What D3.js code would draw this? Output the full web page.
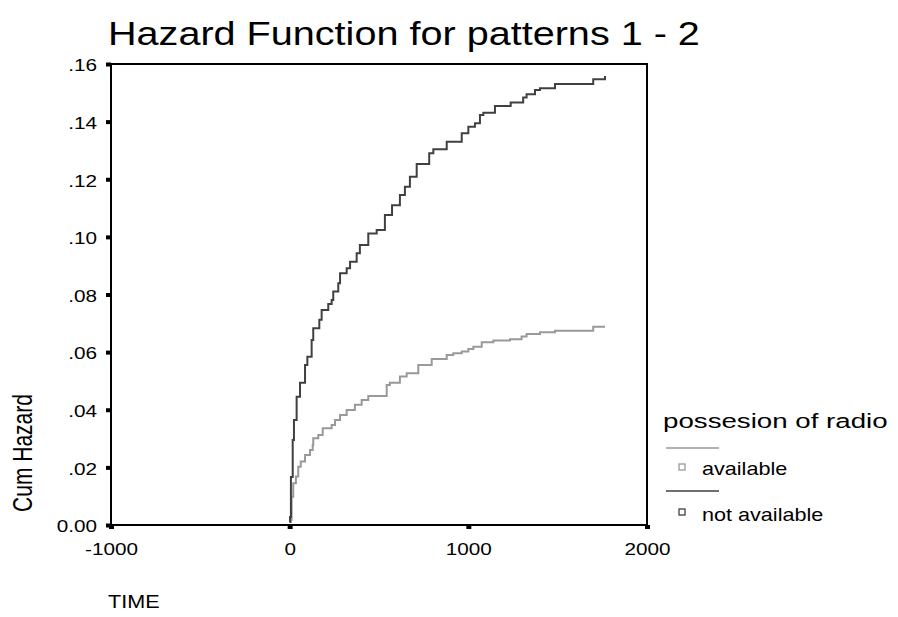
<!DOCTYPE html>
<html>
<head>
<meta charset="utf-8">
<script src="https://cdn.jsdelivr.net/npm/d3@7"></script>
<style>
  body { margin: 0; background: #fff; }
  text { font-family: "Liberation Sans", Arial, sans-serif; fill: #000; }
</style>
</head>
<body>
<div id="chart"></div>
<script>
// cumulative hazard steps
const availTime = [0, 7, 11, 20, 35, 48, 62, 86, 114, 129, 132, 160, 185, 235, 254, 282, 319, 365, 403, 440, 543, 561, 617, 655, 720, 795, 879, 916, 963, 1000, 1028, 1075, 1140, 1233, 1298, 1326, 1401, 1485, 1699, 1765];
const availHaz = [0.001, 0.0017, 0.0098, 0.0145, 0.0168, 0.0202, 0.022, 0.0243, 0.026, 0.0278, 0.0301, 0.0312, 0.0336, 0.0347, 0.0364, 0.0382, 0.0399, 0.0417, 0.0434, 0.0448, 0.0486, 0.0494, 0.0515, 0.0527, 0.0555, 0.0576, 0.059, 0.0596, 0.0602, 0.0611, 0.0619, 0.0634, 0.064, 0.0645, 0.0654, 0.0663, 0.0669, 0.0674, 0.0688, 0.0688];

const notAvailTime = [0, 2, 7, 17, 24, 39, 58, 86, 99, 123, 132, 166, 179, 216, 235, 244, 272, 282, 319, 338, 375, 393, 440, 487, 533, 573, 617, 645, 673, 711, 781, 804, 879, 963, 1000, 1037, 1065, 1084, 1149, 1237, 1307, 1326, 1373, 1401, 1485, 1699, 1765];
const notAvailHaz = [0.001, 0.0028, 0.0167, 0.0295, 0.0364, 0.0445, 0.0494, 0.0555, 0.0584, 0.0642, 0.0683, 0.0712, 0.0746, 0.0767, 0.0781, 0.081, 0.0839, 0.0874, 0.0891, 0.0914, 0.0943, 0.0972, 0.1012, 0.1024, 0.1076, 0.111, 0.1145, 0.1174, 0.1209, 0.1253, 0.129, 0.1304, 0.133, 0.136, 0.1382, 0.1394, 0.1423, 0.1431, 0.1454, 0.1466, 0.1484, 0.1495, 0.151, 0.1516, 0.1531, 0.1547, 0.1558];

const xTicks = [-1000, 0, 1000, 2000];
const xTickLabels = ["-1000", "0", "1000", "2000"];
const yTicks = [0, 0.02, 0.04, 0.06, 0.08, 0.10, 0.12, 0.14, 0.16];
const yTickLabels = ["0.00", ".02", ".04", ".06", ".08", ".10", ".12", ".14", ".16"];

const groupNames = ["available", "not available"];
const groupColors = ["#999999", "#404040"];

const W = 898, H = 617;
const plot = {left: 111, right: 647, top: 64, bottom: 525};
const SX = 1.22; // the original text is drawn a bit wide

const svg = d3.select("#chart").append("svg")
    .attr("width", W)
    .attr("height", H);

const x = d3.scaleLinear().domain([-1000, 2000]).range([plot.left, plot.right]);
const y = d3.scaleLinear().domain([0, 0.16]).range([plot.bottom, plot.top]);

// wide text helper: place text at (px,py) stretched horizontally
function wideText(px, py, str, size, sx, anchor) {
    return svg.append("text")
        .attr("transform", `translate(${px},${py}) scale(${sx},1)`)
        .attr("text-anchor", anchor || "start")
        .style("font-size", size + "px")
        .text(str);
}

// title
wideText(108, 45, "Hazard Function for patterns 1 - 2", 33, 1.2);

// axes
const xAxis = d3.axisBottom(x)
    .tickValues(xTicks)
    .tickFormat((d, i) => xTickLabels[i])
    .tickSizeInner(4)
    .tickSizeOuter(0);

const gx = svg.append("g")
    .attr("transform", `translate(0,${plot.bottom})`)
    .call(xAxis);
gx.select(".domain").remove();
gx.selectAll(".tick line").attr("stroke", "#000").attr("stroke-width", 5);
gx.selectAll(".tick text")
    .attr("y", 30).attr("dy", 0)
    .attr("transform", `scale(${SX},1)`)
    .style("font-size", "17px")
    .style("font-family", "'Liberation Sans', Arial, sans-serif")
    .attr("fill", "#000");

const yAxis = d3.axisLeft(y)
    .tickValues(yTicks)
    .tickFormat((d, i) => yTickLabels[i])
    .tickSizeInner(5)
    .tickSizeOuter(0);

const gy = svg.append("g")
    .attr("transform", `translate(${plot.left},0)`)
    .call(yAxis);
gy.select(".domain").remove();
gy.selectAll(".tick line").attr("stroke", "#000").attr("stroke-width", 4);
gy.selectAll(".tick text")
    .attr("x", -14 / SX).attr("dy", "0.4em")
    .attr("transform", `scale(${SX},1)`)
    .style("font-size", "17px")
    .style("font-family", "'Liberation Sans', Arial, sans-serif")
    .attr("fill", "#000");

// frame
svg.append("rect")
    .attr("x", plot.left)
    .attr("y", plot.top)
    .attr("width", plot.right - plot.left)
    .attr("height", plot.bottom - plot.top)
    .attr("fill", "none")
    .attr("stroke", "#000")
    .attr("stroke-width", 2);

// step curves
const line = d3.line()
    .x(d => x(d[0]))
    .y(d => y(d[1]))
    .curve(d3.curveStepAfter);

const series = [
    d3.zip(availTime, availHaz),
    d3.zip(notAvailTime, notAvailHaz)
];

svg.selectAll(".haz")
    .data(series)
    .enter()
    .append("path")
    .attr("class", "haz")
    .attr("d", line)
    .attr("fill", "none")
    .attr("stroke", (d, i) => groupColors[i])
    .attr("stroke-width", 2);

// axis titles
svg.append("text")
    .attr("transform", "translate(32,453) rotate(-90) scale(1,1.35)")
    .attr("text-anchor", "middle")
    .style("font-size", "21px")
    .text("Cum Hazard");

wideText(108, 608, "TIME", 18, 1.2);

// legend
wideText(663, 428, "possesion of radio", 19.5, 1.42);

const legendRows = [
    {lineY: 448, boxY: 467, textY: 475},
    {lineY: 491, boxY: 512, textY: 521}
];

legendRows.forEach((r, i) => {
    svg.append("line")
        .attr("x1", 666).attr("x2", 719)
        .attr("y1", r.lineY).attr("y2", r.lineY)
        .attr("stroke", groupColors[i])
        .attr("stroke-width", 1.5);
    svg.append("rect")
        .attr("x", 679).attr("y", r.boxY - 3)
        .attr("width", 6).attr("height", 6)
        .attr("fill", "#fff")
        .attr("stroke", groupColors[i])
        .attr("stroke-width", 1.3);
    wideText(702, r.textY, groupNames[i], 18, 1.2);
});
</script>
</body>
</html>
